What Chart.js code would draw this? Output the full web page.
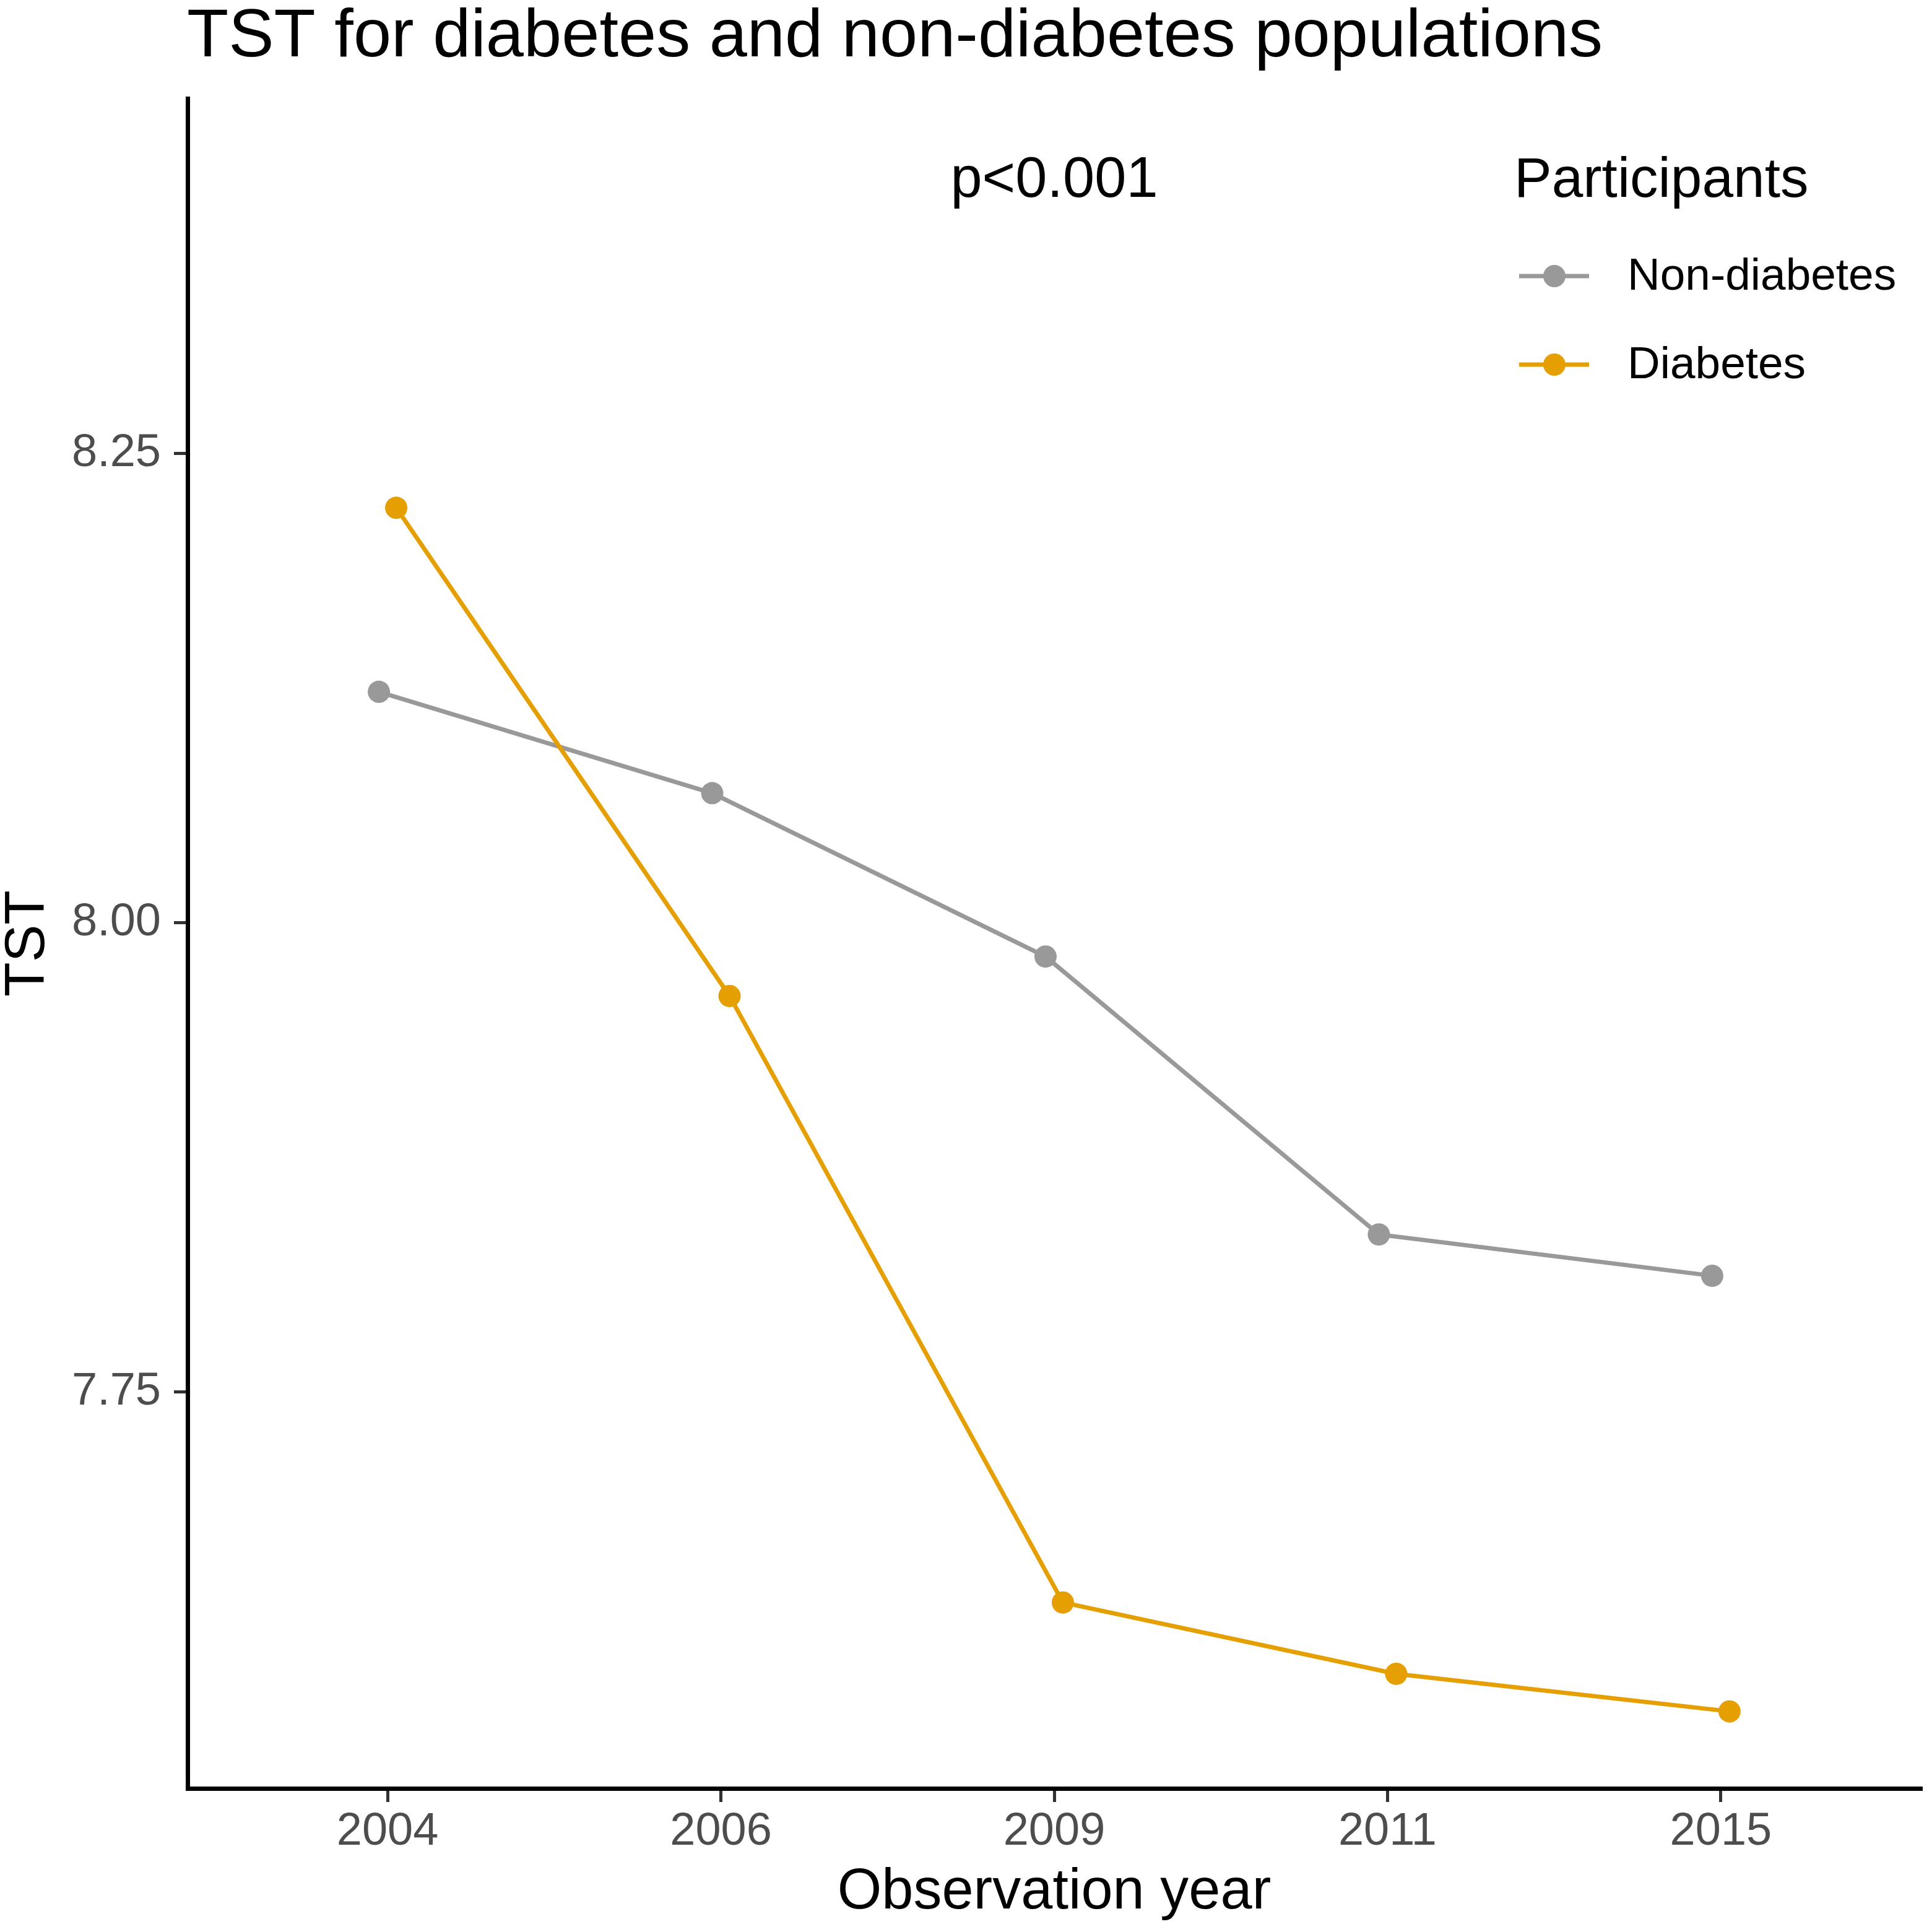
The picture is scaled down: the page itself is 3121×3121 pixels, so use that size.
<!DOCTYPE html>
<html>
<head>
<meta charset="utf-8">
<script src="https://cdn.jsdelivr.net/npm/chart.js@4.4.1/dist/chart.umd.min.js"></script>
<style>
  html, body { margin: 0; padding: 0; background: #fff; }
  #chart { display: block; }
</style>
</head>
<body>
<canvas id="chart" width="3121" height="3121" style="width:3121px;height:3121px"></canvas>
<script>
// data
const years       = ['2004', '2006', '2009', '2011', '2015'];
const nonDiabetes = [8.123, 8.069, 7.982, 7.834, 7.812];
const diabetes    = [8.221, 7.961, 7.638, 7.600, 7.580];
const yTicks      = [7.75, 8.00, 8.25];
const seriesNames = ['Non-diabetes', 'Diabetes'];
const colors      = ['#999999', '#E69F00'];

const FONT = "'Liberation Sans', Arial, sans-serif";
Chart.defaults.font.family = FONT;

// ggplot-style dodge between the two groups
const dodge = 0.026;
const toPoints = (vals, shift) => vals.map((v, i) => ({ x: i + shift, y: v }));

const LINE_W = 7;

// title, p-value and legend drawn on top
const annotations = {
  id: 'annotations',
  afterDraw(chart) {
    const { ctx, scales: { x } } = chart;
    ctx.save();
    ctx.fillStyle = '#000';
    ctx.textBaseline = 'alphabetic';

    ctx.font = `110px ${FONT}`;
    ctx.textAlign = 'left';
    ctx.fillText('TST for diabetes and non-diabetes populations', 302, 91);

    ctx.font = `92px ${FONT}`;
    ctx.textAlign = 'center';
    ctx.fillText('p<0.001', x.getPixelForValue(2), 318);

    // legend
    ctx.font = `91px ${FONT}`;
    ctx.textAlign = 'left';
    ctx.fillText('Participants', 2446, 318);

    const rows = [446, 589];
    seriesNames.forEach((name, i) => {
      const y = rows[i];
      ctx.strokeStyle = colors[i];
      ctx.lineWidth = LINE_W;
      ctx.beginPath();
      ctx.moveTo(2454, y);
      ctx.lineTo(2567, y);
      ctx.stroke();
      ctx.fillStyle = colors[i];
      ctx.beginPath();
      ctx.arc(2511, y, 18, 0, Math.PI * 2);
      ctx.fill();
      ctx.fillStyle = '#000';
      ctx.font = `73px ${FONT}`;
      ctx.textBaseline = 'middle';
      ctx.fillText(name, 2629, y + 2);
    });
    ctx.restore();
  }
};

new Chart(document.getElementById('chart'), {
  type: 'line',
  data: {
    datasets: [
      {
        label: seriesNames[0],
        data: toPoints(nonDiabetes, -dodge),
        borderColor: colors[0],
        backgroundColor: colors[0],
        borderWidth: LINE_W,
        pointRadius: 18,
        pointBorderWidth: 0,
        order: 2,
      },
      {
        label: seriesNames[1],
        data: toPoints(diabetes, dodge),
        borderColor: colors[1],
        backgroundColor: colors[1],
        borderWidth: LINE_W,
        pointRadius: 18,
        pointBorderWidth: 0,
        order: 1,
      }
    ]
  },
  options: {
    responsive: false,
    animation: false,
    devicePixelRatio: 1,
    layout: { padding: { top: 159, right: 4, left: 0, bottom: 0 } },
    plugins: { legend: { display: false }, tooltip: { enabled: false } },
    scales: {
      x: {
        type: 'linear',
        min: -0.6,
        max: 4.6,
        afterBuildTicks: s => { s.ticks = years.map((_, i) => ({ value: i })); },
        afterFit: s => { s.height = 232; },
        border: { color: '#000', width: 7 },
        grid: { drawOnChartArea: false, drawTicks: true, tickLength: 22, color: '#333333', lineWidth: 5 },
        ticks: {
          color: '#4d4d4d',
          padding: 12,
          maxRotation: 0,
          font: { size: 74, lineHeight: 1 },
          callback: v => years[v]
        },
        title: {
          display: true,
          text: 'Observation year',
          color: '#000',
          font: { size: 92, lineHeight: 1 },
          padding: { top: 0, bottom: 17 }
        }
      },
      y: {
        min: 7.539,
        max: 8.439,
        afterBuildTicks: s => { s.ticks = yTicks.map(v => ({ value: v })); },
        afterFit: s => { s.width = 303; },
        border: { color: '#000', width: 7 },
        grid: { drawOnChartArea: false, drawTicks: true, tickLength: 22, color: '#333333', lineWidth: 5 },
        ticks: {
          color: '#4d4d4d',
          padding: 21,
          font: { size: 74, lineHeight: 1 },
          callback: v => v.toFixed(2)
        },
        title: {
          display: true,
          text: 'TST',
          color: '#000',
          font: { size: 91, lineHeight: 1 },
          padding: { top: 0, bottom: 0 }
        }
      }
    }
  },
  plugins: [annotations]
});
</script>
</body>
</html>
